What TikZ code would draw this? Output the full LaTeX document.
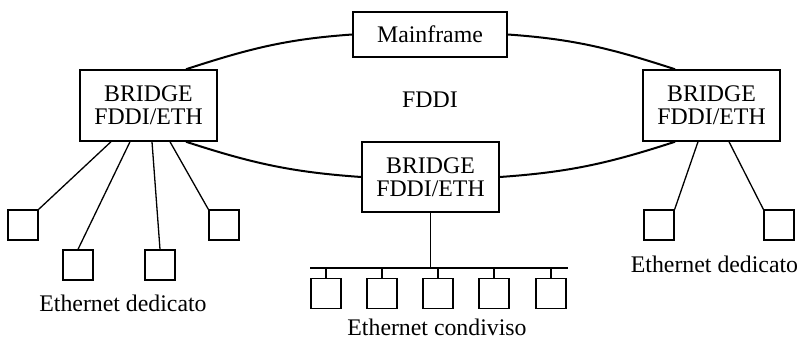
\documentclass[tikz,border=0pt]{standalone}
\usepackage{fontspec}
\setmainfont{Liberation Serif}
\usetikzlibrary{calc}
\tikzset{
  box/.style={draw, line width=1.5pt, inner sep=0pt, align=center, font=\fontsize{23.8pt}{23.3pt}\selectfont},
  bridge/.style={box, minimum width=137pt, minimum height=71pt},
  host/.style={draw, line width=1.3pt, minimum size=30pt, inner sep=0pt},
  ring/.style={line width=2pt},
  wire/.style={line width=1.3pt},
  lbl/.style={anchor=base, inner sep=0pt, font=\fontsize{23.8pt}{23.3pt}\selectfont}
}
\begin{document}
\begin{tikzpicture}[x=1pt,y=1pt]
\useasboundingbox (0,0) rectangle (805,340);
% main boxes
\node[box, minimum width=154pt, minimum height=45pt] (mf) at (430,305.5) {Mainframe};
\node[bridge] (lb) at (148.5,234.5) {BRIDGE\\FDDI/ETH};
\node[bridge, minimum height=70pt] (cb) at (430.5,163) {BRIDGE\\FDDI/ETH};
\node[bridge] (rb) at (711.5,234.5) {BRIDGE\\FDDI/ETH};
\node[lbl] (fddi) at (430,232) {FDDI};
% ring
\coordinate (lbt) at ($(lb.north)+(37.5,0)$);
\coordinate (lbb) at ($(lb.south)+(37.5,0)$);
\coordinate (rbt) at ($(rb.north)+(-36.5,0)$);
\coordinate (rbb) at ($(rb.south)+(-36.5,0)$);
\draw[ring] (lbt) to[out=18, in=184] (mf.west);
\draw[ring] (mf.east) to[out=-4, in=162] (rbt);
\draw[ring] (lbb) to[out=-18, in=176] (cb.west);
\draw[ring] (cb.east) to[out=4, in=198] (rbb);
% dedicated hosts left
\node[host] (d1) at (23,115) {};
\node[host] (d2) at (78,75) {};
\node[host] (d3) at (160,75) {};
\node[host] (d4) at (224,115) {};
\draw[wire] (d1.north east) -- ($(lb.south)+(-37.5,0)$);
\draw[wire] (d2.north) -- ($(lb.south)+(-18.5,0)$);
\draw[wire] (d3.north) -- ($(lb.south)+(3.5,0)$);
\draw[wire] (d4.north west) -- ($(lb.south)+(21.5,0)$);
\node[lbl] (tl) at (123,29) {Ethernet dedicato};
% dedicated hosts right
\node[host] (d5) at (659,115) {};
\node[host] (d6) at (779,115) {};
\draw[wire] (d5.north east) -- ($(rb.south)+(-13.5,0)$);
\draw[wire] (d6.north west) -- ($(rb.south)+(17.5,0)$);
\node[lbl] (tr) at (714.5,68) {Ethernet dedicato};
% shared bus
\coordinate (busl) at (310,72);
\coordinate (busr) at (568,72);
\draw[wire] (busl) -- (busr);
\draw[wire] (cb.south) -- (cb.south |- busl);
\foreach \i/\x in {1/326,2/382,3/438,4/494,5/551}{
  \node[host] (s\i) at (\x,46.5) {};
  \draw[wire] (s\i.north) -- (s\i.north |- busl);
}
\node[lbl] (tc) at (437,4.5) {Ethernet condiviso};
\end{tikzpicture}
\end{document}
